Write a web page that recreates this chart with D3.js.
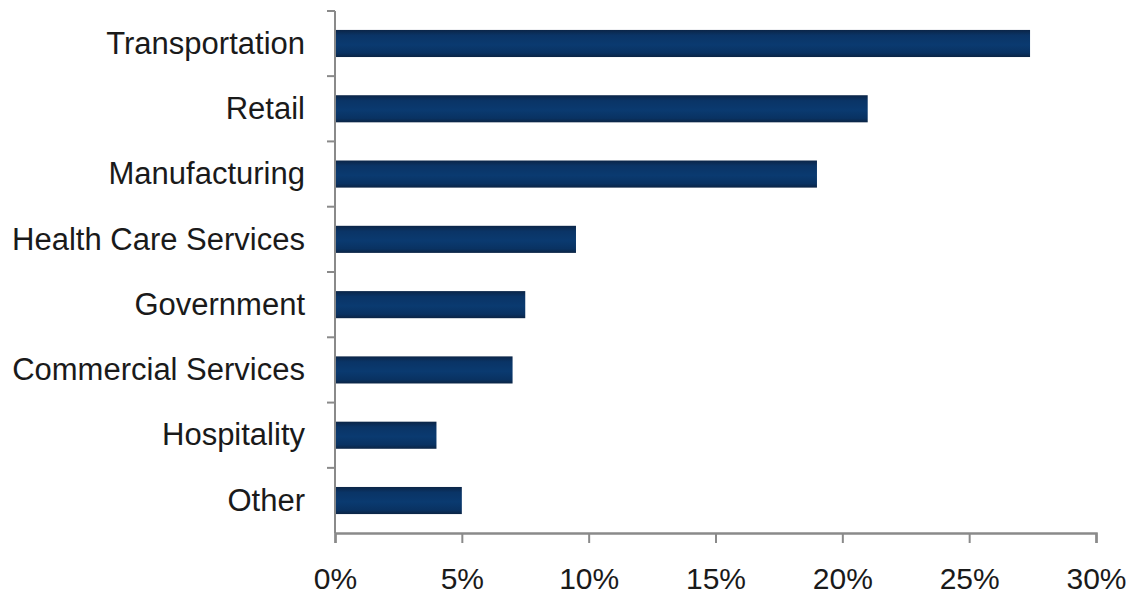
<!DOCTYPE html>
<html>
<head>
<meta charset="utf-8">
<script src="https://cdn.jsdelivr.net/npm/d3@7"></script>
<style>
  html, body { margin: 0; padding: 0; background: #fff; }
  svg { display: block; }
</style>
</head>
<body>
<svg id="chart" width="1136" height="596"></svg>
<script>
// Share of total by industry sector
const categories = ["Transportation", "Retail", "Manufacturing", "Health Care Services",
                    "Government", "Commercial Services", "Hospitality", "Other"];
const shares = [27.4, 21, 19, 9.5, 7.5, 7, 4, 5];
const xTicks = [0, 5, 10, 15, 20, 25, 30];

const svg = d3.select("#chart");
const margin = { top: 11, right: 40, bottom: 63, left: 335 };

const x = d3.scaleLinear().domain([0, 30]).range([margin.left, 1096]);
const y = d3.scaleBand().domain(categories).range([margin.top, 533]).paddingInner(0.585).paddingOuter(0.29);

// bar fill: navy with darker top and bottom edges
const grad = svg.append("defs").append("linearGradient")
  .attr("id", "barFill").attr("x1", 0).attr("y1", 0).attr("x2", 0).attr("y2", 1);
grad.append("stop").attr("offset", "0%").attr("stop-color", "#0b2547");
grad.append("stop").attr("offset", "20%").attr("stop-color", "#0a3466");
grad.append("stop").attr("offset", "55%").attr("stop-color", "#0a3a70");
grad.append("stop").attr("offset", "85%").attr("stop-color", "#093262");
grad.append("stop").attr("offset", "100%").attr("stop-color", "#0b2444");

svg.append("g").selectAll("rect")
  .data(categories.map((c, i) => ({ c, v: shares[i] })))
  .join("rect")
  .attr("x", x(0))
  .attr("y", d => y(d.c))
  .attr("width", d => x(d.v) - x(0))
  .attr("height", y.bandwidth())
  .attr("fill", "url(#barFill)");

const axisColor = "#8a8a8a";

// vertical category axis with ticks at band boundaries
const yAxis = svg.append("g");
yAxis.append("line")
  .attr("x1", x(0)).attr("x2", x(0))
  .attr("y1", margin.top).attr("y2", 533)
  .attr("stroke", axisColor).attr("stroke-width", 2);
const bounds = categories.map(c => y(c) - y.step() * y.paddingInner() / 2);
bounds[0] = margin.top;
yAxis.selectAll("line.tick")
  .data(bounds)
  .join("line").attr("class", "tick")
  .attr("x1", x(0) - 8).attr("x2", x(0))
  .attr("y1", d => d).attr("y2", d => d)
  .attr("stroke", axisColor).attr("stroke-width", 2);

yAxis.selectAll("text")
  .data(categories)
  .join("text")
  .attr("x", 305)
  .attr("y", d => y(d) + y.bandwidth() / 2)
  .attr("dy", "0.33em")
  .attr("text-anchor", "end")
  .attr("font-family", "Liberation Sans, Arial, sans-serif")
  .attr("font-size", 31)
  .attr("fill", "#1a1a1a")
  .text(d => d);

// horizontal value axis
const xAxis = svg.append("g").attr("transform", "translate(0,533)")
  .call(d3.axisBottom(x).tickValues(xTicks).tickFormat(d => d + "%").tickSize(10).tickPadding(25));
xAxis.select(".domain").attr("stroke", axisColor).attr("stroke-width", 2.5);
xAxis.selectAll(".tick line").attr("stroke", axisColor).attr("stroke-width", 2);
xAxis.selectAll(".tick text")
  .attr("font-family", "Liberation Sans, Arial, sans-serif")
  .attr("font-size", 30)
  .attr("fill", "#1a1a1a");
</script>
</body>
</html>
